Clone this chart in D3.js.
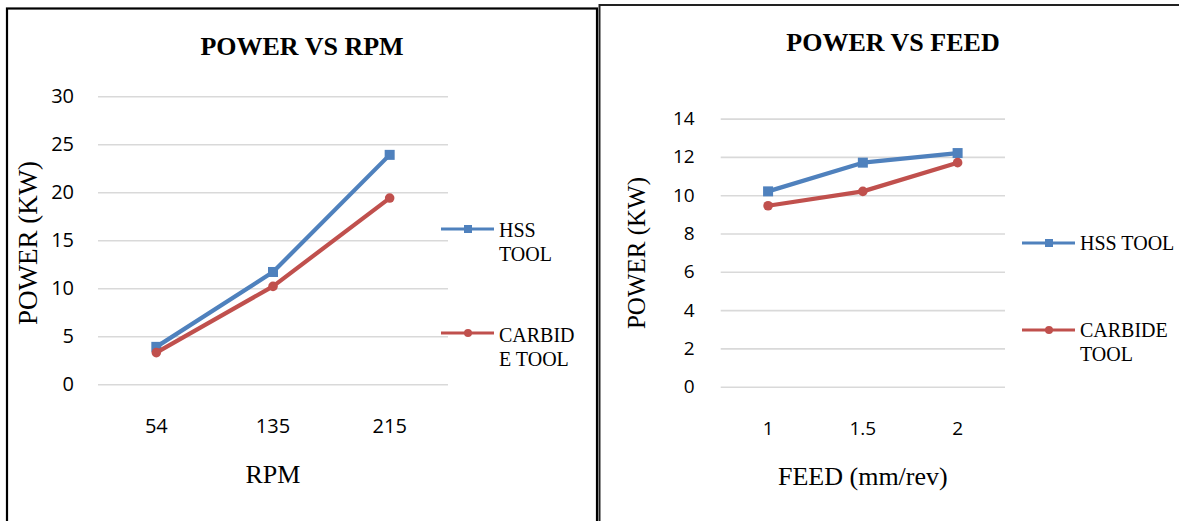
<!DOCTYPE html>
<html><head><meta charset="utf-8">
<script src="https://cdn.jsdelivr.net/npm/d3@7"></script>
<style>body{margin:0;background:#fff}svg{display:block}</style>
</head><body>
<svg id="c" width="1179" height="521"></svg>
<script>
// Data
const rpmCats = ["54", "135", "215"];
const rpmHss = [3.9, 11.7, 23.9];
const rpmCarbide = [3.3, 10.2, 19.4];
const rpmTicks = [0, 5, 10, 15, 20, 25, 30];

const feedCats = ["1", "1.5", "2"];
const feedHss = [10.2, 11.7, 12.2];
const feedCarbide = [9.45, 10.2, 11.7];
const feedTicks = [0, 2, 4, 6, 8, 10, 12, 14];

const BLUE = "#4F81BD", RED = "#C0504D";

const svg = d3.select("#c");
const serif = "'Liberation Serif', 'Times New Roman', serif";
const sans = "'Open Sans', 'Noto Sans', sans-serif";

// frames
svg.append("rect").attr("x", 7).attr("y", 8.5).attr("width", 590).attr("height", 540)
  .attr("fill", "none").attr("stroke", "#000").attr("stroke-width", 2.2);
svg.append("rect").attr("x", 599.5).attr("y", 5).attr("width", 600).attr("height", 540)
  .attr("fill", "none").attr("stroke", "#222").attr("stroke-width", 2);

function chart(o) {
  const g = svg.append("g");
  const x = d3.scaleBand().domain(o.cats).range([o.x0, o.x1]);
  const y = d3.scaleLinear().domain([0, o.ymax]).range([o.y0, o.y1]);

  const yAxis = d3.axisLeft(y).tickValues(o.ticks).tickSize(-(o.x1 - o.x0)).tickPadding(o.yPad);
  const ga = g.append("g").attr("transform", `translate(${o.x0},0)`).call(yAxis);
  ga.select(".domain").remove();
  ga.selectAll(".tick line").attr("stroke", "#d9d9d9").attr("stroke-width", 1.6);
  ga.selectAll(".tick text").attr("font-family", sans).attr("font-size", o.tickFs).attr("fill", "#000");

  const xAxis = d3.axisBottom(x).tickSize(0);
  const gx = g.append("g").attr("transform", `translate(0,${o.y0})`).call(xAxis);
  gx.select(".domain").remove();
  gx.selectAll(".tick text").attr("font-family", sans).attr("font-size", o.tickFs).attr("fill", "#000")
    .attr("dy", null).attr("y", o.xTickBase - o.y0);

  g.append("text").attr("x", o.titleX).attr("y", o.titleY).attr("text-anchor", "middle")
    .attr("font-family", serif).attr("font-weight", "bold").attr("font-size", 26).text(o.title);
  g.append("text").attr("x", (o.x0 + o.x1) / 2).attr("y", o.xtY).attr("text-anchor", "middle")
    .attr("font-family", serif).attr("font-size", 26).text(o.xTitle);
  g.append("text").attr("transform", `translate(${o.ytX},${o.ytY}) rotate(-90)`).attr("text-anchor", "middle")
    .attr("font-family", serif).attr("font-size", o.ytFs).text("POWER (KW)");

  const line = d3.line().x((d, i) => x(o.cats[i]) + x.bandwidth() / 2).y(d => y(d));
  const sets = [{v: o.hss, c: BLUE, m: "sq"}, {v: o.carb, c: RED, m: "ci"}];
  sets.forEach(s => {
    g.append("path").attr("d", line(s.v)).attr("fill", "none").attr("stroke", s.c)
      .attr("stroke-width", 4.2).attr("stroke-linejoin", "round").attr("stroke-linecap", "round");
    s.v.forEach((d, i) => {
      const cx = x(o.cats[i]) + x.bandwidth() / 2, cy = y(d);
      if (s.m === "sq") g.append("rect").attr("x", cx - 5).attr("y", cy - 5).attr("width", 10).attr("height", 10).attr("fill", s.c);
      else g.append("circle").attr("cx", cx).attr("cy", cy).attr("r", 4.8).attr("fill", s.c);
    });
  });

  o.legend.forEach((L, k) => {
    const s = sets[k];
    g.append("line").attr("x1", L.x).attr("x2", L.x + 53).attr("y1", L.y).attr("y2", L.y)
      .attr("stroke", s.c).attr("stroke-width", 3);
    const mx = L.x + 27;
    if (s.m === "sq") g.append("rect").attr("x", mx - 4).attr("y", L.y - 4).attr("width", 8).attr("height", 8).attr("fill", s.c);
    else g.append("circle").attr("cx", mx).attr("cy", L.y).attr("r", 4).attr("fill", s.c);
    const t = g.append("text").attr("font-family", serif).attr("font-size", 20).attr("fill", "#000");
    L.lines.forEach((ln, j) => {
      t.append("tspan").attr("x", L.x + 58).attr("y", L.y + L.dy + j * 24.5).text(ln);
    });
  });
}

chart({
  cats: rpmCats, hss: rpmHss, carb: rpmCarbide, ticks: rpmTicks, ymax: 30,
  x0: 98, x1: 448, y0: 384.3, y1: 96.3, yPad: 24, tickFs: 20, xTickBase: 433,
  title: "POWER VS RPM", titleX: 302, titleY: 55,
  xTitle: "RPM", xtY: 483, ytX: 37, ytY: 243, ytFs: 27,
  legend: [{x: 441, y: 229, dy: 7.5, lines: ["HSS", "TOOL"]}, {x: 441, y: 333, dy: 8.5, lines: ["CARBID", "E TOOL"]}]
});
chart({
  cats: feedCats, hss: feedHss, carb: feedCarbide, ticks: feedTicks, ymax: 14,
  x0: 720.7, x1: 1005, y0: 386.7, y1: 118.6, yPad: 26, tickFs: 19, xTickBase: 435,
  title: "POWER VS FEED", titleX: 893, titleY: 51,
  xTitle: "FEED (mm/rev)", xtY: 485, ytX: 645, ytY: 253, ytFs: 25,
  legend: [{x: 1022, y: 243, dy: 6.7, lines: ["HSS TOOL"]}, {x: 1022, y: 330, dy: 6.5, lines: ["CARBIDE", "TOOL"]}]
});
</script>
</body></html>
